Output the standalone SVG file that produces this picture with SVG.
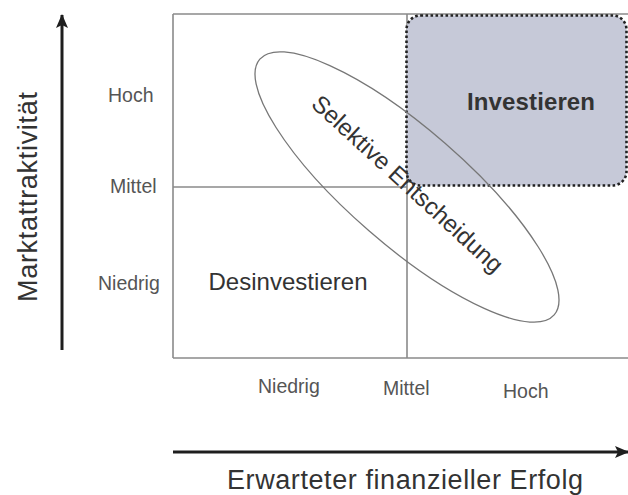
<svg xmlns="http://www.w3.org/2000/svg" width="628" height="495" viewBox="0 0 628 495">
  <style>
    .grid { stroke: #8a8a8a; stroke-width: 1.6; fill: none; }
    .axis { stroke: #1e1e1e; stroke-width: 3; fill: none; }
    .tick { font-family: "Liberation Sans", Arial, sans-serif; font-size: 19.5px; fill: #555; }
    .title { font-family: "Liberation Sans", Arial, sans-serif; font-size: 27px; fill: #333; }
    .zone { font-family: "Liberation Sans", Arial, sans-serif; font-size: 24px; fill: #333; }
  </style>
  <defs>
    <marker id="arrow" viewBox="0 0 14 12" refX="13" refY="6" markerWidth="14" markerHeight="12" markerUnits="userSpaceOnUse" orient="auto">
      <path d="M0,0 L14,6 L0,12 L3,6 Z" fill="#1e1e1e"/>
    </marker>
  </defs>

  <rect width="628" height="495" fill="#ffffff"/>

  <!-- portfolio matrix frame -->
  <g id="matrix">
    <path class="grid" d="M173,14 H628 M173,358 H628 M173,14 V358 M407,14 V358 M173,187 H407"/>
  </g>

  <!-- upper right quadrant: invest -->
  <g id="investieren">
    <rect x="406.5" y="15.5" width="220" height="170" rx="14" fill="#c6c9d8" stroke="#222" stroke-width="2.6" stroke-dasharray="2.6 2.4"/>
    <text class="zone" x="531" y="110" text-anchor="middle" font-weight="bold" textLength="128">Investieren</text>
  </g>

  <!-- lower left quadrant: divest -->
  <g id="desinvestieren">
    <text class="zone" x="288" y="290" text-anchor="middle" textLength="159">Desinvestieren</text>
  </g>

  <!-- diagonal band: selective decision -->
  <g id="selektive-entscheidung">
    <ellipse cx="407" cy="187" rx="195" ry="58" transform="rotate(41 407 187)" fill="none" stroke="#777" stroke-width="1.3"/>
    <text class="zone" x="402" y="190" text-anchor="middle" transform="rotate(42.5 402 190)">Selektive Entscheidung</text>
  </g>

  <!-- axes -->
  <g id="connectors">
    <line class="axis" x1="62" y1="350" x2="62" y2="15" marker-end="url(#arrow)"/>
    <line class="axis" x1="173" y1="452" x2="628" y2="452" marker-end="url(#arrow)"/>
  </g>

  <!-- vertical axis labels -->
  <g id="y-labels">
    <text class="tick" x="108" y="102">Hoch</text>
    <text class="tick" x="110" y="193">Mittel</text>
    <text class="tick" x="98" y="290">Niedrig</text>
    <text class="title" x="37" y="197" text-anchor="middle" transform="rotate(-90 37 197)" textLength="210">Marktattraktivität</text>
  </g>

  <!-- horizontal axis labels -->
  <g id="x-labels">
    <text class="tick" x="258" y="393">Niedrig</text>
    <text class="tick" x="383" y="395">Mittel</text>
    <text class="tick" x="503" y="398">Hoch</text>
    <text class="title" x="405" y="489" text-anchor="middle" textLength="356">Erwarteter finanzieller Erfolg</text>
  </g>
</svg>
